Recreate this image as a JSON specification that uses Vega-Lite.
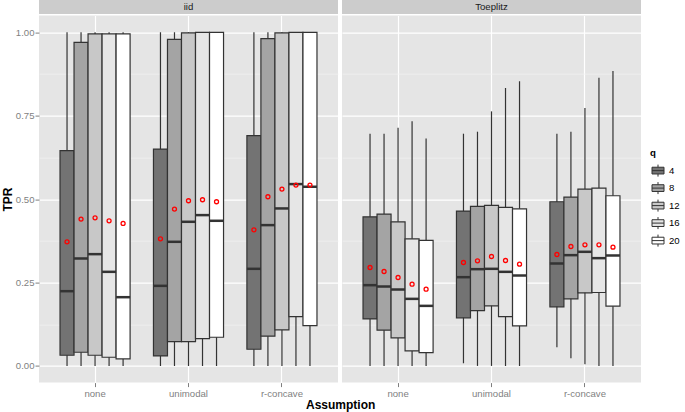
{
  "$schema": "https://vega.github.io/schema/vega-lite/v6.json",
  "padding": {"left": 1, "top": 0, "right": 0, "bottom": 0},
  "background": "white",
  "config": {"font": "Liberation Sans", "view": {"stroke": null}},
  "title": {"text": "Assumption", "orient": "bottom", "anchor": "middle", "fontSize": 12, "fontWeight": "bold", "color": "#000000", "offset": 2},
  "datasets": {
    "strips": [{"facet": "iid"}, {"facet": "Toeplitz"}],
    "tpr": [
      {"facet": "iid", "assumption": "none", "q": 4, "lower": 0, "q1": 0.032, "median": 0.224, "q3": 0.645, "upper": 1.0, "mean": 0.372},
      {"facet": "iid", "assumption": "none", "q": 8, "lower": 0, "q1": 0.041, "median": 0.322, "q3": 0.970, "upper": 1.0, "mean": 0.440},
      {"facet": "iid", "assumption": "none", "q": 12, "lower": 0, "q1": 0.032, "median": 0.335, "q3": 0.995, "upper": 1.0, "mean": 0.444},
      {"facet": "iid", "assumption": "none", "q": 16, "lower": 0, "q1": 0.026, "median": 0.282, "q3": 0.995, "upper": 1.0, "mean": 0.435},
      {"facet": "iid", "assumption": "none", "q": 20, "lower": 0, "q1": 0.021, "median": 0.206, "q3": 0.995, "upper": 1.0, "mean": 0.427},
      {"facet": "iid", "assumption": "unimodal", "q": 4, "lower": 0, "q1": 0.030, "median": 0.240, "q3": 0.650, "upper": 1.0, "mean": 0.381},
      {"facet": "iid", "assumption": "unimodal", "q": 8, "lower": 0, "q1": 0.073, "median": 0.372, "q3": 0.979, "upper": 1.0, "mean": 0.470},
      {"facet": "iid", "assumption": "unimodal", "q": 12, "lower": 0, "q1": 0.073, "median": 0.432, "q3": 0.998, "upper": 1.0, "mean": 0.495},
      {"facet": "iid", "assumption": "unimodal", "q": 16, "lower": 0, "q1": 0.082, "median": 0.452, "q3": 1.0, "upper": 1.0, "mean": 0.498},
      {"facet": "iid", "assumption": "unimodal", "q": 20, "lower": 0, "q1": 0.086, "median": 0.435, "q3": 1.0, "upper": 1.0, "mean": 0.492},
      {"facet": "iid", "assumption": "r-concave", "q": 4, "lower": 0, "q1": 0.050, "median": 0.291, "q3": 0.690, "upper": 1.0, "mean": 0.408},
      {"facet": "iid", "assumption": "r-concave", "q": 8, "lower": 0, "q1": 0.089, "median": 0.422, "q3": 0.981, "upper": 1.0, "mean": 0.507},
      {"facet": "iid", "assumption": "r-concave", "q": 12, "lower": 0, "q1": 0.108, "median": 0.472, "q3": 0.998, "upper": 1.0, "mean": 0.530},
      {"facet": "iid", "assumption": "r-concave", "q": 16, "lower": 0, "q1": 0.148, "median": 0.545, "q3": 1.0, "upper": 1.0, "mean": 0.542},
      {"facet": "iid", "assumption": "r-concave", "q": 20, "lower": 0, "q1": 0.121, "median": 0.537, "q3": 1.0, "upper": 1.0, "mean": 0.542},
      {"facet": "Toeplitz", "assumption": "none", "q": 4, "lower": 0, "q1": 0.141, "median": 0.242, "q3": 0.447, "upper": 0.696, "mean": 0.295},
      {"facet": "Toeplitz", "assumption": "none", "q": 8, "lower": 0, "q1": 0.107, "median": 0.238, "q3": 0.455, "upper": 0.696, "mean": 0.283},
      {"facet": "Toeplitz", "assumption": "none", "q": 12, "lower": 0, "q1": 0.084, "median": 0.229, "q3": 0.432, "upper": 0.714, "mean": 0.265},
      {"facet": "Toeplitz", "assumption": "none", "q": 16, "lower": 0, "q1": 0.045, "median": 0.201, "q3": 0.381, "upper": 0.733, "mean": 0.245},
      {"facet": "Toeplitz", "assumption": "none", "q": 20, "lower": 0, "q1": 0.040, "median": 0.180, "q3": 0.376, "upper": 0.682, "mean": 0.230},
      {"facet": "Toeplitz", "assumption": "unimodal", "q": 4, "lower": 0.008, "q1": 0.144, "median": 0.266, "q3": 0.464, "upper": 0.696, "mean": 0.310},
      {"facet": "Toeplitz", "assumption": "unimodal", "q": 8, "lower": 0, "q1": 0.166, "median": 0.290, "q3": 0.478, "upper": 0.702, "mean": 0.315},
      {"facet": "Toeplitz", "assumption": "unimodal", "q": 12, "lower": 0, "q1": 0.180, "median": 0.291, "q3": 0.481, "upper": 0.763, "mean": 0.328},
      {"facet": "Toeplitz", "assumption": "unimodal", "q": 16, "lower": 0, "q1": 0.148, "median": 0.282, "q3": 0.475, "upper": 0.833, "mean": 0.316},
      {"facet": "Toeplitz", "assumption": "unimodal", "q": 20, "lower": 0, "q1": 0.120, "median": 0.271, "q3": 0.471, "upper": 0.853, "mean": 0.305},
      {"facet": "Toeplitz", "assumption": "r-concave", "q": 4, "lower": 0.056, "q1": 0.177, "median": 0.307, "q3": 0.492, "upper": 0.696, "mean": 0.334},
      {"facet": "Toeplitz", "assumption": "r-concave", "q": 8, "lower": 0.023, "q1": 0.201, "median": 0.332, "q3": 0.506, "upper": 0.702, "mean": 0.358},
      {"facet": "Toeplitz", "assumption": "r-concave", "q": 12, "lower": 0.005, "q1": 0.219, "median": 0.342, "q3": 0.530, "upper": 0.773, "mean": 0.363},
      {"facet": "Toeplitz", "assumption": "r-concave", "q": 16, "lower": 0, "q1": 0.220, "median": 0.323, "q3": 0.533, "upper": 0.864, "mean": 0.363},
      {"facet": "Toeplitz", "assumption": "r-concave", "q": 20, "lower": 0, "q1": 0.179, "median": 0.331, "q3": 0.510, "upper": 0.884, "mean": 0.356}
    ]
  },
  "spacing": 4,
  "hconcat": [
    {
      "spacing": 1.6,
      "vconcat": [
        {
          "width": 299, "height": 14,
          "view": {"fill": "#CCCCCC", "stroke": null},
          "data": {"name": "strips"},
          "transform": [{"filter": "datum.facet === 'iid'"}],
          "mark": {"type": "text", "fontSize": 9.6, "color": "#1A1A1A", "baseline": "middle", "align": "center"},
          "encoding": {"text": {"field": "facet"}}
        },
        {
          "width": 299, "height": 367,
          "view": {"fill": "#E5E5E5", "stroke": null},
          "data": {"name": "tpr"},
          "transform": [{"filter": "datum.facet === 'iid'"}],
          "encoding": {
            "x": {"field": "assumption", "type": "nominal",
              "scale": {"domain": ["none", "unimodal", "r-concave"], "paddingInner": 0.25, "paddingOuter": 0.225},
              "axis": {"title": null, "domain": false, "grid": true, "gridColor": "#FFFFFF", "gridWidth": 1.2, "bandPosition": 0.5,
                "tickColor": "#7F7F7F", "tickSize": 4, "labelColor": "#7F7F7F", "labelFontSize": 9.6, "labelPadding": 2, "labelAngle": 0}},
            "xOffset": {"field": "q", "type": "ordinal", "scale": {"paddingInner": 0, "paddingOuter": 0}}
          },
          "layer": [
            {
              "mark": {"type": "rule", "color": "#333333", "strokeWidth": 1.2},
              "encoding": {
                "y": {"field": "lower", "type": "quantitative", "title": "TPR", "scale": {"domain": [-0.05, 1.05], "nice": false, "zero": false},
                  "axis": {"title": "TPR", "values": [0, 0.125, 0.25, 0.375, 0.5, 0.625, 0.75, 0.875, 1.0], "format": ".2f",
                    "labelExpr": "round(datum.value*8) % 2 === 0 ? datum.label : ''",
                    "domain": false, "grid": true,
                    "gridColor": {"condition": {"test": "round(datum.value*8) % 2 === 0", "value": "#FFFFFF"}, "value": "#F2F2F2"},
                    "gridWidth": {"condition": {"test": "round(datum.value*8) % 2 === 0", "value": 1.2}, "value": 0.7},
                    "tickColor": "#7F7F7F",
                    "tickOpacity": {"condition": {"test": "round(datum.value*8) % 2 === 0", "value": 1}, "value": 0},
                    "tickSize": 4, "labelColor": "#7F7F7F", "labelFontSize": 9.6, "labelPadding": 1,
                    "titleFontSize": 12, "titleFontWeight": "bold", "titleColor": "#000000", "titlePadding": 1}},
                "y2": {"field": "upper"}
              }
            },
            {
              "mark": {"type": "bar", "stroke": "#333333", "strokeWidth": 1.2, "opacity": 1},
              "encoding": {
                "y": {"field": "q1", "type": "quantitative", "title": "TPR"},
                "y2": {"field": "q3"},
                "fill": {"field": "q", "type": "ordinal",
                  "scale": {"domain": [4, 8, 12, 16, 20], "range": ["#737373", "#A4A4A4", "#C8C8C8", "#E6E6E6", "#FFFFFF"]},
                  "legend": {"title": "q", "orient": "none", "legendX": 611, "legendY": 148,
                    "symbolType": "M-0.8,-0.45H0.8V0.45H-0.8Z M0,-0.45V-0.8 M0,0.45V0.8 M-0.8,0H0.8",
                    "symbolSize": 225, "symbolStrokeColor": "#333333", "symbolStrokeWidth": 1, "rowPadding": 1.5,
                    "labelFontSize": 9.6, "labelColor": "#000000", "labelOffset": 3,
                    "titleFontSize": 9.6, "titleFontWeight": "bold", "titleColor": "#000000", "titlePadding": 5}}
              }
            },
            {
              "mark": {"type": "tick", "orient": "horizontal", "size": 14, "thickness": 2.5, "color": "#333333", "opacity": 1},
              "encoding": {"y": {"field": "median", "type": "quantitative", "title": "TPR"}}
            },
            {
              "mark": {"type": "point", "shape": "circle", "filled": false, "color": "#FF0000", "size": 16, "strokeWidth": 1.3, "opacity": 1},
              "encoding": {"y": {"field": "mean", "type": "quantitative", "title": "TPR"}}
            }
          ]
        }
      ]
    },
    {
      "spacing": 1.6,
      "vconcat": [
        {
          "width": 299, "height": 14,
          "view": {"fill": "#CCCCCC", "stroke": null},
          "data": {"name": "strips"},
          "transform": [{"filter": "datum.facet === 'Toeplitz'"}],
          "mark": {"type": "text", "fontSize": 9.6, "color": "#1A1A1A", "baseline": "middle", "align": "center"},
          "encoding": {"text": {"field": "facet"}}
        },
        {
          "width": 299, "height": 367,
          "view": {"fill": "#E5E5E5", "stroke": null},
          "data": {"name": "tpr"},
          "transform": [{"filter": "datum.facet === 'Toeplitz'"}],
          "encoding": {
            "x": {"field": "assumption", "type": "nominal",
              "scale": {"domain": ["none", "unimodal", "r-concave"], "paddingInner": 0.25, "paddingOuter": 0.225},
              "axis": {"title": null, "domain": false, "grid": true, "gridColor": "#FFFFFF", "gridWidth": 1.2, "bandPosition": 0.5,
                "tickColor": "#7F7F7F", "tickSize": 4, "labelColor": "#7F7F7F", "labelFontSize": 9.6, "labelPadding": 2, "labelAngle": 0}},
            "xOffset": {"field": "q", "type": "ordinal", "scale": {"paddingInner": 0, "paddingOuter": 0}}
          },
          "layer": [
            {
              "mark": {"type": "rule", "color": "#333333", "strokeWidth": 1.2},
              "encoding": {
                "y": {"field": "lower", "type": "quantitative", "title": null, "scale": {"domain": [-0.05, 1.05], "nice": false, "zero": false},
                  "axis": {"title": null, "values": [0, 0.125, 0.25, 0.375, 0.5, 0.625, 0.75, 0.875, 1.0],
                    "labels": false, "ticks": false, "domain": false, "grid": true,
                    "gridColor": {"condition": {"test": "round(datum.value*8) % 2 === 0", "value": "#FFFFFF"}, "value": "#F2F2F2"},
                    "gridWidth": {"condition": {"test": "round(datum.value*8) % 2 === 0", "value": 1.2}, "value": 0.7}}},
                "y2": {"field": "upper"}
              }
            },
            {
              "mark": {"type": "bar", "stroke": "#333333", "strokeWidth": 1.2, "opacity": 1},
              "encoding": {
                "y": {"field": "q1", "type": "quantitative", "title": null},
                "y2": {"field": "q3"},
                "fill": {"field": "q", "type": "ordinal",
                  "scale": {"domain": [4, 8, 12, 16, 20], "range": ["#737373", "#A4A4A4", "#C8C8C8", "#E6E6E6", "#FFFFFF"]},
                  "legend": {"title": "q", "orient": "none", "legendX": 611, "legendY": 148,
                    "symbolType": "M-0.8,-0.45H0.8V0.45H-0.8Z M0,-0.45V-0.8 M0,0.45V0.8 M-0.8,0H0.8",
                    "symbolSize": 225, "symbolStrokeColor": "#333333", "symbolStrokeWidth": 1, "rowPadding": 1.5,
                    "labelFontSize": 9.6, "labelColor": "#000000", "labelOffset": 3,
                    "titleFontSize": 9.6, "titleFontWeight": "bold", "titleColor": "#000000", "titlePadding": 5}}
              }
            },
            {
              "mark": {"type": "tick", "orient": "horizontal", "size": 14, "thickness": 2.5, "color": "#333333", "opacity": 1},
              "encoding": {"y": {"field": "median", "type": "quantitative", "title": null}}
            },
            {
              "mark": {"type": "point", "shape": "circle", "filled": false, "color": "#FF0000", "size": 16, "strokeWidth": 1.3, "opacity": 1},
              "encoding": {"y": {"field": "mean", "type": "quantitative", "title": null}}
            }
          ]
        }
      ]
    }
  ]
}
